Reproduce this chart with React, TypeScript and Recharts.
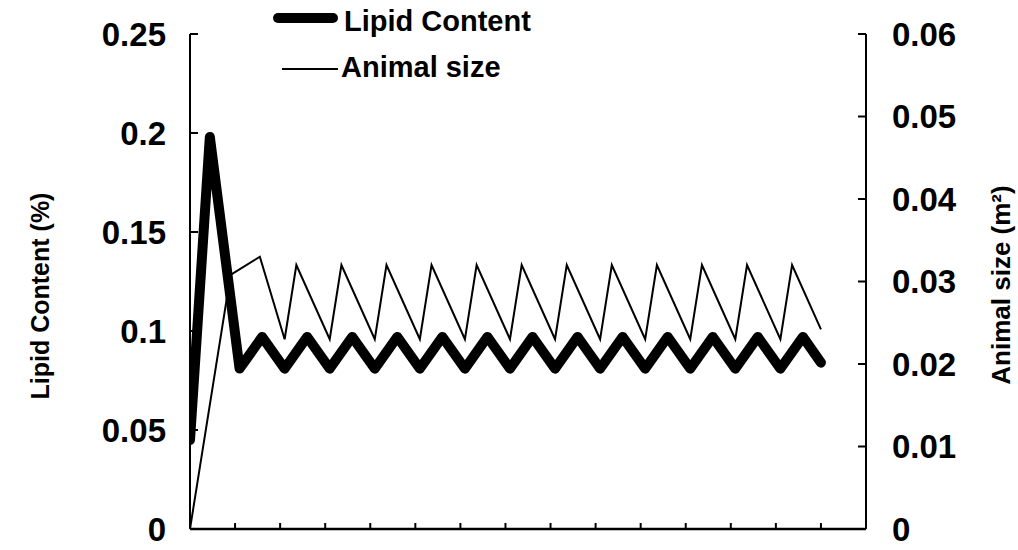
import * as React from 'react';
import { Legend, Line, LineChart, XAxis, YAxis } from 'recharts';

const FONT = '"Liberation Sans", Arial, Helvetica, sans-serif';

// x positions are measured in tick intervals along the (unlabelled) time axis
const lipidX = [
  0, 0.44, 1.1, 1.6, 2.1, 2.6, 3.1, 3.6, 4.1, 4.6, 5.1, 5.6, 6.1, 6.6, 7.1, 7.6,
  8.1, 8.6, 9.1, 9.6, 10.1, 10.6, 11.1, 11.6, 12.1, 12.6, 13.1, 13.6, 14,
];
const lipidValues = [
  0.045, 0.198, 0.081, 0.097, 0.081, 0.097, 0.081, 0.097, 0.081, 0.097, 0.081,
  0.097, 0.081, 0.097, 0.081, 0.097, 0.081, 0.097, 0.081, 0.097, 0.081, 0.097,
  0.081, 0.097, 0.081, 0.097, 0.081, 0.097, 0.084,
];

const sizeX = [
  0, 0.9, 1.55, 2.1, 2.36, 3.1, 3.36, 4.1, 4.36, 5.1, 5.36, 6.1, 6.36, 7.1, 7.36,
  8.1, 8.36, 9.1, 9.36, 10.1, 10.36, 11.1, 11.36, 12.1, 12.36, 13.1, 13.36, 14,
];
const sizeValues = [
  0, 0.0308, 0.033, 0.023, 0.032, 0.023, 0.032, 0.023, 0.032, 0.023, 0.032,
  0.023, 0.032, 0.023, 0.032, 0.023, 0.032, 0.023, 0.032, 0.023, 0.032, 0.023,
  0.032, 0.023, 0.032, 0.023, 0.032, 0.0242,
];

const xTicks = [0, 1, 2, 3, 4, 5, 6, 7, 8, 9, 10, 11, 12, 13, 14, 15];
const lipidTicks = [0, 0.05, 0.1, 0.15, 0.2, 0.25];
const sizeTicks = [0, 0.01, 0.02, 0.03, 0.04, 0.05, 0.06];
const legendNames = ['Lipid Content', 'Animal size'];

const lipidData = lipidX.map((x, i) => ({ x, v: lipidValues[i] }));
const sizeData = sizeX.map((x, i) => ({ x, v: sizeValues[i] }));

// tick marks point into the plot area
const XTick = (props: any) => {
  const { x, y } = props;
  return <line x1={x} x2={x} y1={y} y2={y - 6} stroke="#000" strokeWidth={2} />;
};

const LeftTick = (props: any) => {
  const { x, y, payload } = props;
  return (
    <g>
      <line x1={x} x2={x + 8} y1={y} y2={y} stroke="#000" strokeWidth={2} />
      <text x={x - 24} y={y} dy="0.36em" textAnchor="end" fontFamily={FONT} fontWeight="bold" fontSize={33} fill="#000">
        {payload.value}
      </text>
    </g>
  );
};

const RightTick = (props: any) => {
  const { x, y, payload } = props;
  return (
    <g>
      <line x1={x} x2={x - 8} y1={y} y2={y} stroke="#000" strokeWidth={2} />
      <text x={x + 26} y={y} dy="0.36em" textAnchor="start" fontFamily={FONT} fontWeight="bold" fontSize={33} fill="#000">
        {payload.value}
      </text>
    </g>
  );
};

const renderLegend = (props: any) => {
  const items = [...(props.payload || [])].sort(
    (a: any, b: any) => legendNames.indexOf(a.value) - legendNames.indexOf(b.value)
  );
  return (
    <svg width={300} height={90}>
      {items.map((item: any, i: number) => {
        const thick = item.value === 'Lipid Content';
        const y = i === 0 ? 18 : 69;
        return (
          <g key={item.value}>
            <line
              x1={thick ? 18 : 22}
              x2={thick ? 73 : 78}
              y1={y}
              y2={y}
              stroke={item.color}
              strokeWidth={thick ? 10 : 2}
              strokeLinecap={thick ? 'round' : 'butt'}
            />
            <text x={thick ? 84 : 81} y={y + (thick ? 13 : 8)} fontFamily={FONT} fontWeight="bold" fontSize={29} fill="#000">
              {item.value}
            </text>
          </g>
        );
      })}
    </svg>
  );
};

const titleStyle = { fontFamily: FONT, fontWeight: 'bold' as const, fill: '#000' };

export default function App() {
  return (
    <div style={{ position: 'absolute', left: 0, top: 0, background: '#fff' }}>
      <LineChart width={1018} height={550} margin={{ top: 34, right: 0, bottom: 0, left: 0 }}>
        <XAxis
          xAxisId={0}
          dataKey="x"
          type="number"
          domain={[0, 15]}
          ticks={xTicks}
          interval={0}
          height={21}
          tickSize={0}
          tickMargin={0}
          tickLine={false}
          tick={<XTick />}
          axisLine={{ stroke: '#000', strokeWidth: 2.5 }}
          allowDataOverflow
        />
        <YAxis
          yAxisId="lipid"
          type="number"
          domain={[0, 0.25]}
          ticks={lipidTicks}
          interval={0}
          width={190}
          tickSize={0}
          tickMargin={0}
          tickLine={false}
          tick={<LeftTick />}
          axisLine={{ stroke: '#000', strokeWidth: 2 }}
          label={{
            content: () => (
              <text x={40} y={296} transform="rotate(-90 40 296)" textAnchor="middle" dominantBaseline="central" fontSize={25} {...titleStyle}>
                Lipid Content (%)
              </text>
            ),
          }}
        />
        <YAxis
          yAxisId="size"
          orientation="right"
          type="number"
          domain={[0, 0.06]}
          ticks={sizeTicks}
          interval={0}
          width={152}
          tickSize={0}
          tickMargin={0}
          tickLine={false}
          tick={<RightTick />}
          axisLine={{ stroke: '#000', strokeWidth: 2 }}
          label={{
            content: () => (
              <text x={1001} y={285} transform="rotate(-90 1001 285)" textAnchor="middle" dominantBaseline="central" fontSize={26} {...titleStyle}>
                Animal size (m²)
              </text>
            ),
          }}
        />
        <Legend
          layout="horizontal"
          verticalAlign="middle"
          align="center"
          content={renderLegend}
          wrapperStyle={{ position: 'absolute', left: 260, top: 0, width: 300, height: 90 }}
        />
        <Line
          yAxisId="size"
          data={sizeData}
          dataKey="v"
          name="Animal size"
          type="linear"
          stroke="#000"
          strokeWidth={2}
          dot={false}
          activeDot={false}
          isAnimationActive={false}
        />
        <Line
          yAxisId="lipid"
          data={lipidData}
          dataKey="v"
          name="Lipid Content"
          type="linear"
          stroke="#000"
          strokeWidth={10}
          strokeLinejoin="round"
          strokeLinecap="round"
          dot={false}
          activeDot={false}
          isAnimationActive={false}
        />
      </LineChart>
    </div>
  );
}
